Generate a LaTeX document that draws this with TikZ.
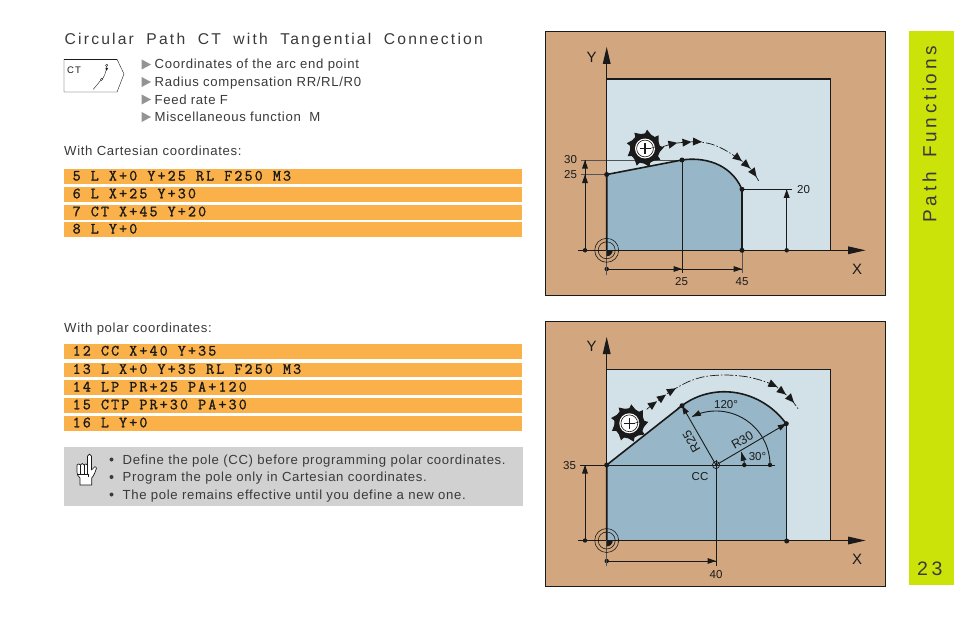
\documentclass[tikz,border=0pt]{standalone}
\usepackage{fontspec}
\setmainfont{Liberation Sans}
\newfontfamily\codefont[LetterSpace=14,FakeBold=1.3]{Latin Modern Mono}
\newfontfamily\spacedfont[LetterSpace=14]{Liberation Sans}
\newfontfamily\sidefont[LetterSpace=19]{Liberation Sans}
\newfontfamily\bodyfont[LetterSpace=5]{Liberation Sans}
\definecolor{tan}{HTML}{D2A77F}
\definecolor{pale}{HTML}{D2E1E8}
\definecolor{steel}{HTML}{97B7C8}
\definecolor{barorange}{HTML}{FBB14A}
\definecolor{lime}{HTML}{CCE30A}
\definecolor{note}{HTML}{D1D1D1}
\definecolor{ink}{HTML}{1A1A1A}
\definecolor{txt}{HTML}{3A3A3A}
\tikzset{
  panel/.style={fill=tan,draw=ink,line width=0.7pt},
  dimline/.style={draw=ink,line width=0.9pt},
  thinline/.style={draw=ink!75,line width=0.6pt},
  contour/.style={draw=ink,line width=1.6pt},
  lab/.style={inner sep=0pt,font=\fontsize{11.5}{12}\selectfont,text=ink},
  biglab/.style={inner sep=0pt,font=\fontsize{12.5}{13}\selectfont,text=ink},
  axlab/.style={inner sep=0pt,font=\fontsize{15}{16}\selectfont,text=ink},
  bodytext/.style={anchor=base west,inner sep=0pt,yshift=-4.5pt,text=txt,font=\bodyfont\fontsize{13.15}{14}\selectfont},
  codetext/.style={anchor=base west,inner sep=0pt,yshift=-4pt,text=ink,font=\codefont\fontsize{15.5}{16}\selectfont},
  travel/.style={draw=ink,line width=0.7pt,dash pattern=on 9pt off 2pt on 1.5pt off 2pt},
}
\newcommand{\pdot}[2]{\fill[ink] (#1,#2) circle (2.5);}
\newcommand{\sdot}[2]{\fill[ink] (#1,#2) circle (2.2);}
\newcommand{\tiphead}[3]{\fill[ink,shift={(#1,#2)},rotate=#3] (0pt,0pt)--(-8.5pt,3pt)--(-8.5pt,-3pt)--cycle;}
\newcommand{\flowhead}[3]{\fill[ink,shift={(#1,#2)},rotate=#3] (4.5pt,0pt)--(-4.5pt,4pt)--(-4.5pt,-4pt)--cycle;}
\newcommand{\axes}[2]{% y of origin, y of top
  \draw[dimline] (578,#1)--(852,#1);
  \fill[ink] (865.5,#1)--(848,#1-4)--(848,#1+4)--cycle;
  \draw[dimline] (606.7,#1+25)--(606.7,#2+12);
  \fill[ink] (606.7,#2)--(602.7,#2+17)--(610.7,#2+17)--cycle;
}
\newcommand{\origin}[2]{%
  \draw[ink,line width=0.6pt] (#1,#2) circle (12);
  \draw[ink,line width=0.6pt] (#1,#2) circle (8.5);
  \fill[ink] (#1,#2)--(#1+6,#2) arc[start angle=0,end angle=-90,radius=6pt]--cycle;
}
\newcommand{\cutter}[2]{%
  \begin{scope}[shift={(#1,#2)}]
    \fill[ink] (0,0) circle (15);
    \foreach \a in {0,40,...,320}{
      \fill[ink] (\a-24:14pt)--(\a+4:19pt)--(\a+9:15.5pt)--(\a+16:14pt)--cycle;
    }
    \fill[white] (0,0) circle (10);
    \draw[ink,line width=0.6pt] (0,0) circle (8.4);
    \draw[ink,line width=1.2pt] (-5.5,0)--(5.5,0) (0,-5.5)--(0,5.5);
    \draw[ink,line width=0.5pt] (5,0)--(10,-1.5);
  \end{scope}
}
\begin{document}
\begin{tikzpicture}[x=1pt,y=-1pt]
\useasboundingbox (0,0) rectangle (954,618);
\fill[white] (0,0) rectangle (954,618);

% sidebar
\fill[lime] (909,31) rectangle (954,585);
\node[rotate=90,anchor=west,inner sep=0pt,text=txt,font=\sidefont\fontsize{19}{20}\selectfont] (side) at (929.5,222.5) {Path\hspace{6pt} Functions};
\node[anchor=west,inner sep=0pt,text=txt,font=\sidefont\fontsize{19.5}{20}\selectfont] (page) at (917,568.5) {23};

% heading
\node[anchor=base west,inner sep=0pt,text=txt,font=\spacedfont\fontsize{15.65}{16}\selectfont] (head) at (64.5,45) {Circular\hspace{6pt} Path\hspace{6pt} CT\hspace{6pt} with\hspace{6pt} Tangential\hspace{6pt} Connection};

% soft key
\draw[ink,line width=0.4pt,fill=white] (64,59.3)--(117,59.3)--(124,74)--(117,92)--(64,92)--cycle;
\draw[ink,line width=0.9pt] (64,59.3)--(117,59.3);
\node[anchor=west,inner sep=0pt,text=ink,font=\spacedfont\fontsize{9.5}{10}\selectfont] (ctkey) at (67,70) {C\hspace{1pt}T};
\draw[ink,line width=0.4pt] (93.3,89.3)--(101,80)
  .. controls (104,78) and (106,73) .. (106.7,66);
\draw[ink,line width=0.4pt,fill=white] (101.7,79.3) circle (1.2) (106.7,65.3) circle (1.2);
\fill[ink] (106.7,71)--(105.4,68)--(108,68)--cycle;

% bullets
\foreach \yy/\ltext in {64.5/{Coordinates of the arc end point},82/{Radius compensation RR/RL/R0},99.5/{Feed rate F},117/{Miscellaneous function\ \ M}}{
  \fill[black!42] (141.7,\yy-5)--(151,\yy)--(141.7,\yy+5)--cycle;
  \node[bodytext] at (154.5,\yy) {\ltext};
}

\node[bodytext] (cart) at (64,150.5) {With Cartesian coordinates:};
\foreach \ya/\yb/\ltext in {
  169/184/{5 L X+0 Y+25 RL F250 M3},
  187/201.5/{6 L X+25 Y+30},
  205/219.5/{7 CT X+45 Y+20},
  222/237/{8 L Y+0}}{
  \fill[barorange] (64,\ya) rectangle (522,\yb);
  \node[codetext] at (72.5,{(\ya+\yb)/2}) {\ltext};
}

\node[bodytext] (pol) at (64,327.5) {With polar coordinates:};
\foreach \ya/\yb/\ltext in {
  344/359/{12 CC X+40 Y+35},
  362.5/377/{13 L X+0 Y+35 RL F250 M3},
  380/395/{14 LP PR+25 PA+120},
  398/412.5/{15 CTP PR+30 PA+30},
  416/430.5/{16 L Y+0}}{
  \fill[barorange] (64,\ya) rectangle (522,\yb);
  \node[codetext] at (72.5,{(\ya+\yb)/2}) {\ltext};
}

% note box
\fill[note] (64,447) rectangle (523,505.5);
\foreach \yy/\ltext in {459.5/{Define the pole (CC) before programming polar coordinates.},477/{Program the pole only in Cartesian coordinates.},494.5/{The pole remains effective until you define a new one.}}{
  \fill[txt] (111.5,\yy) circle (2);
  \node[bodytext] at (122.5,\yy) {\ltext};
}
% hand
\draw[ink,line width=0.7pt,fill=white,line join=round]
  (87.5,456) .. controls (88.5,453.5) and (90.5,453.5) .. (91.5,456)
  --(91.5,470)--(95,466.5)--(96.5,468)
  .. controls (95,473) and (93.5,476) .. (91.7,478)
  --(91.7,485)--(80,485)--(80,478)
  .. controls (77.5,476) and (77,474) .. (77,472)
  --(77,465) .. controls (77.5,463.5) and (80,463.5) .. (80.5,465)
  .. controls (81,463) and (83.5,463) .. (84,465)
  .. controls (84.5,463.5) and (87,463.5) .. (87.5,465)--cycle;
\draw[ink,line width=0.7pt] (80.5,465)--(80.5,474) (84,465)--(84,474) (87.5,465)--(87.5,474)
  (77,474)--(88,474)--(88,477);

%%%%%%%%%% first figure %%%%%%%%%%
\draw[panel] (545.5,31) rectangle (885,295.5);
\fill[pale] (606.7,79) rectangle (830.7,250.3);
\draw[ink,line width=1.1pt] (606.7,79)--(830.7,79);
\draw[ink,line width=0.5pt] (830.7,79)--(830.7,250.3);
\coordinate (a0) at (606.7,174.5);
\coordinate (a1) at (682,160);
\coordinate (a2) at (742,189.3);
\coordinate (a3) at (742,250.3);
\fill[steel] (606.7,250.3)--(a0)--(a1) .. controls (702,157) and (730,162) .. (a2)--(a3)--cycle;
\draw[thinline] (580.5,160)--(a1);
\draw[thinline] (580.5,174.5)--(a0);
\draw[contour] (606.7,250.3)--(a0)--(a1) .. controls (702,157) and (730,162) .. (a2)--(a3);
\draw[dimline] (a1)--(682,273);
\draw[dimline] (a2)--(791.5,189.3);
\draw[thinline] (a3)--(742,273);
\axes{250.3}{47}
\draw[ink,line width=1.4pt] (606.7,250.3)--(a3);
\draw[dimline] (585,250.3)--(585,160);
\tiphead{585}{160}{90}
\tiphead{585}{174.5}{90}
\sdot{585}{250.3}
\draw[dimline] (786.7,250.3)--(786.7,189.3);
\tiphead{786.7}{189.3}{90}
\sdot{786.7}{250.3}
\draw[dimline] (606.7,269)--(742,269);
\tiphead{682}{269}{0}
\tiphead{742}{269}{0}
\sdot{606.7}{269}
\draw[thinline] (606.7,250)--(606.7,275);
\origin{606.7}{250.3}
\pdot{606.7}{174.5}\pdot{682}{160}\pdot{742}{189.3}\pdot{742}{250.3}
\cutter{645}{148.5}
\draw[travel] plot[smooth] coordinates {(663,146.7)(673,143.7)(687,142)(697,141.7)(711,144)(724,149.5)(738,158.3)(747,165)(754,173.3)(759,181.5)};
\flowhead{673}{143.7}{12}
\flowhead{687}{142.3}{5}
\flowhead{697.5}{141.7}{-2}
\flowhead{738.3}{158.3}{-38}
\flowhead{746.7}{165.2}{-42}
\flowhead{754}{173.3}{-55}
\node[lab] (l30) at (570.5,160) {30};
\node[lab] (l25) at (570.5,174.5) {25};
\node[lab] (l20) at (803.5,189.3) {20};
\node[lab] (lb25) at (681.5,282) {25};
\node[lab] (lb45) at (742,282) {45};
\node[axlab] (x1) at (857,269.5) {X};
\node[axlab] (y1) at (591.5,57) {Y};

%%%%%%%%%% second figure %%%%%%%%%%
\draw[panel] (545.5,321) rectangle (885,586);
\fill[pale] (606.7,369) rectangle (830.7,540.5);
\draw[ink,line width=0.5pt] (606.7,369)--(830.7,369)--(830.7,540.5);
\coordinate (cc) at (716,465);
\coordinate (b0) at (606.7,465);
\coordinate (b1) at (682,405.7);
\coordinate (b2) at (786.3,423.7);
\coordinate (b3) at (786.3,540.5);
\fill[steel] (606.7,540.5)--(b0)--(b1)--plot[domain=120:30,samples=40] ({716+(68.4+(120-\x)*13.1/90)*cos(\x)},{465-(68.4+(120-\x)*13.1/90)*sin(\x)})--(b3)--cycle;
\draw[contour] (606.7,540.5)--(b0)--(b1)--plot[domain=120:30,samples=40] ({716+(68.4+(120-\x)*13.1/90)*cos(\x)},{465-(68.4+(120-\x)*13.1/90)*sin(\x)});
\draw[dimline] (b2)--(b3);
\axes{540.5}{337}
\draw[ink,line width=1.4pt] (606.7,540.5)--(786.3,540.5);
\draw[dimline] (580,465)--(775,465);
\draw[dimline] (cc)--(b1);
\draw[dimline] (cc)--(b2);
\tiphead{682}{405.7}{120}
\tiphead{786.3}{423.7}{30}
\draw[dimline] (cc)--(716,566);
\draw[dimline,domain=0:116,samples=50] plot ({716+54*cos(\x)},{465-54*sin(\x)});
\tiphead{692.3}{416.7}{-154}
\draw[dimline,domain=0:27,samples=12] plot ({716+28.3*cos(\x)},{465-28.3*sin(\x)});
\tiphead{741.4}{452.3}{105}
\draw[ink,line width=0.7pt] (cc) circle (3.6);
\draw[ink,line width=0.6pt] (710.5,465)--(721.5,465) (716,459.5)--(716,470.5);
\sdot{744.3}{465}
\sdot{770}{465}
\draw[dimline] (585,540.5)--(585,465);
\tiphead{585}{465}{90}
\sdot{585}{540.5}
\draw[dimline] (606.7,561)--(716,561);
\tiphead{716}{561}{0}
\sdot{606.7}{561}
\draw[thinline] (606.7,540)--(606.7,566);
\origin{606.7}{540.5}
\pdot{606.7}{465}\pdot{682}{405.7}\pdot{786.3}{423.7}\pdot{786.7}{541}
\cutter{629.3}{423.3}
\draw[travel] plot[smooth] coordinates {(646.7,409.3)(653.3,404)(662.3,397.3)(671.7,390.7)(688.3,381.7)(705,376.5)(725,375)(745,376.5)(760,380)(773.3,385)(782.3,391.7)(791,399.3)(799,410)};
\flowhead{653.3}{404}{36}
\flowhead{662.3}{397.3}{36}
\flowhead{672}{390.5}{30}
\flowhead{773.3}{385}{-25}
\flowhead{782.3}{391.7}{-38}
\flowhead{791}{399.3}{-48}
\node[lab] (l35) at (569.5,465.7) {35};
\node[lab] (l40) at (716,574.5) {40};
\node[lab] (lcc) at (700,476.5) {CC};
\node[lab] (l120) at (726,405) {120°};
\node[lab] (l30d) at (757.5,456.5) {30°};
\node[biglab,rotate=30] (lr30) at (742.3,440.5) {R30};
\node[biglab,rotate=120] (lr25) at (691.5,441.5) {R25};
\node[axlab] (x2) at (857,559.5) {X};
\node[axlab] (y2) at (591.5,346) {Y};
\end{tikzpicture}
\end{document}
